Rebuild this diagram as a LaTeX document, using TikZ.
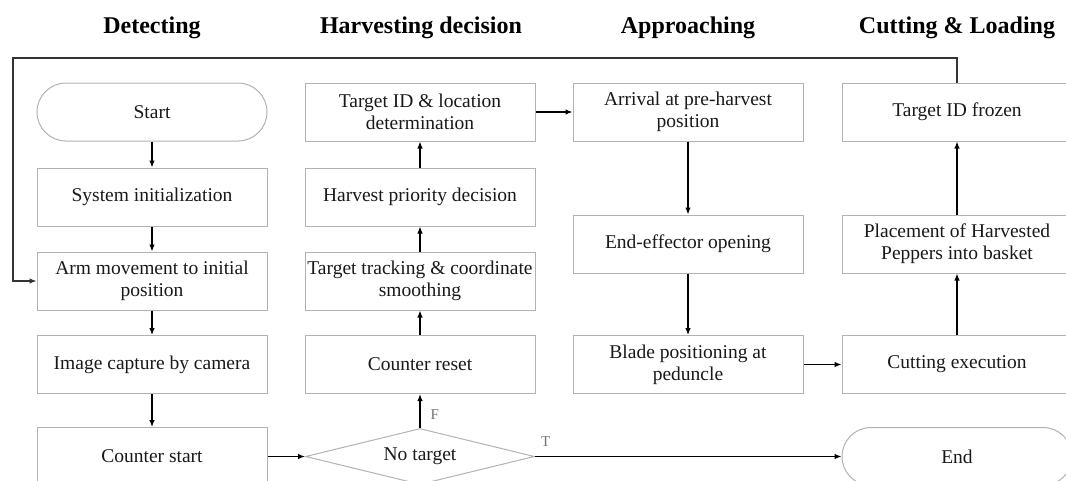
\documentclass[tikz,border=0pt]{standalone}
\usepackage{fontspec}
\setmainfont{Liberation Serif}
\usetikzlibrary{shapes.geometric, arrows.meta, positioning}

\begin{document}
\begin{tikzpicture}[
  x=1pt, y=-1pt,
  box/.style={draw=black!30, line width=1pt, minimum width=230pt, minimum height=58pt, align=center, inner sep=2pt, font=\fontsize{19.5}{22}\selectfont, text=black!90},
  term/.style={box, rounded corners=29pt},
  dec/.style={draw=black!30, line width=1pt, diamond, aspect=4, minimum width=229pt, minimum height=56pt, inner sep=0pt, font=\fontsize{19.5}{22}\selectfont, text=black!90},
  ttl/.style={font=\fontsize{24}{28}\selectfont\bfseries},
  arr/.style={-{Latex[length=7pt,width=5.5pt]}, line width=1.2pt},
  lbl/.style={font=\fontsize{15}{17}\selectfont, text=black!55, inner sep=0pt}
]
  \clip (0,0) rectangle (1066,480);

  % ----- Titles -----
  \node[ttl] (t1) at (152,28) {Detecting};
  \node[ttl] (t2) at (421,28) {Harvesting decision};
  \node[ttl] (t3) at (688,28) {Approaching};
  \node[ttl] (t4) at (957,28) {Cutting \& Loading};

  % ----- Detecting -----
  \node[term] (start) at (152,112)   {Start};
  \node[box]  (init)  at (152,197)   {System initialization};
  \node[box]  (arm)   at (152,281)   {Arm movement to initial\\position};
  \node[box]  (cap)   at (152,364.5) {Image capture by camera};
  \node[box]  (cnt)   at (152,456.5) {Counter start};

  % ----- Harvesting decision -----
  \node[dec]  (notgt) at (420,456.5) {No target};
  \node[box]  (reset) at (420,364.5) {Counter reset};
  \node[box]  (track) at (420,281)   {Target tracking \& coordinate\\smoothing};
  \node[box]  (prio)  at (420,197)   {Harvest priority decision};
  \node[box]  (tid)   at (420,112)   {Target ID \& location\\determination};

  % ----- Approaching -----
  \node[box]  (arrv)  at (688,112)   {Arrival at pre-harvest\\position};
  \node[box]  (open)  at (688,244)   {End-effector opening};
  \node[box]  (blade) at (688,364.5) {Blade positioning at\\peduncle};

  % ----- Cutting & Loading -----
  \node[box]  (froz)  at (957,112)   {Target ID frozen};
  \node[box]  (place) at (957,244)   {Placement of Harvested\\Peppers into basket};
  \node[box]  (cut)   at (957,364.5) {Cutting execution};
  \node[term] (end)   at (957,456.5) {End};

  \coordinate (loop) at (13,58);

  % ----- Flow -----
  \draw[arr] (start) -- (init);
  \draw[arr] (init) -- (arm);
  \draw[arr] (arm) -- (cap);
  \draw[arr] (cap) -- (cnt);
  \draw[arr] (cnt) -- (notgt);
  \draw[arr] (notgt) -- node[lbl, pos=0.4, right=10pt] {F} (reset);
  \draw[arr] (notgt) -- node[lbl, pos=0.035, above=9pt] {T} (end);
  \draw[arr] (reset) -- (track);
  \draw[arr] (track) -- (prio);
  \draw[arr] (prio) -- (tid);
  \draw[arr] (tid) -- (arrv);
  \draw[arr] (arrv) -- (open);
  \draw[arr] (open) -- (blade);
  \draw[arr] (blade) -- (cut);
  \draw[arr] (cut) -- (place);
  \draw[arr] (place) -- (froz);

  % ----- Back to start position -----
  \draw[arr, draw=black!80] (froz.north) |- (loop) |- (arm.west);
\end{tikzpicture}
\end{document}
